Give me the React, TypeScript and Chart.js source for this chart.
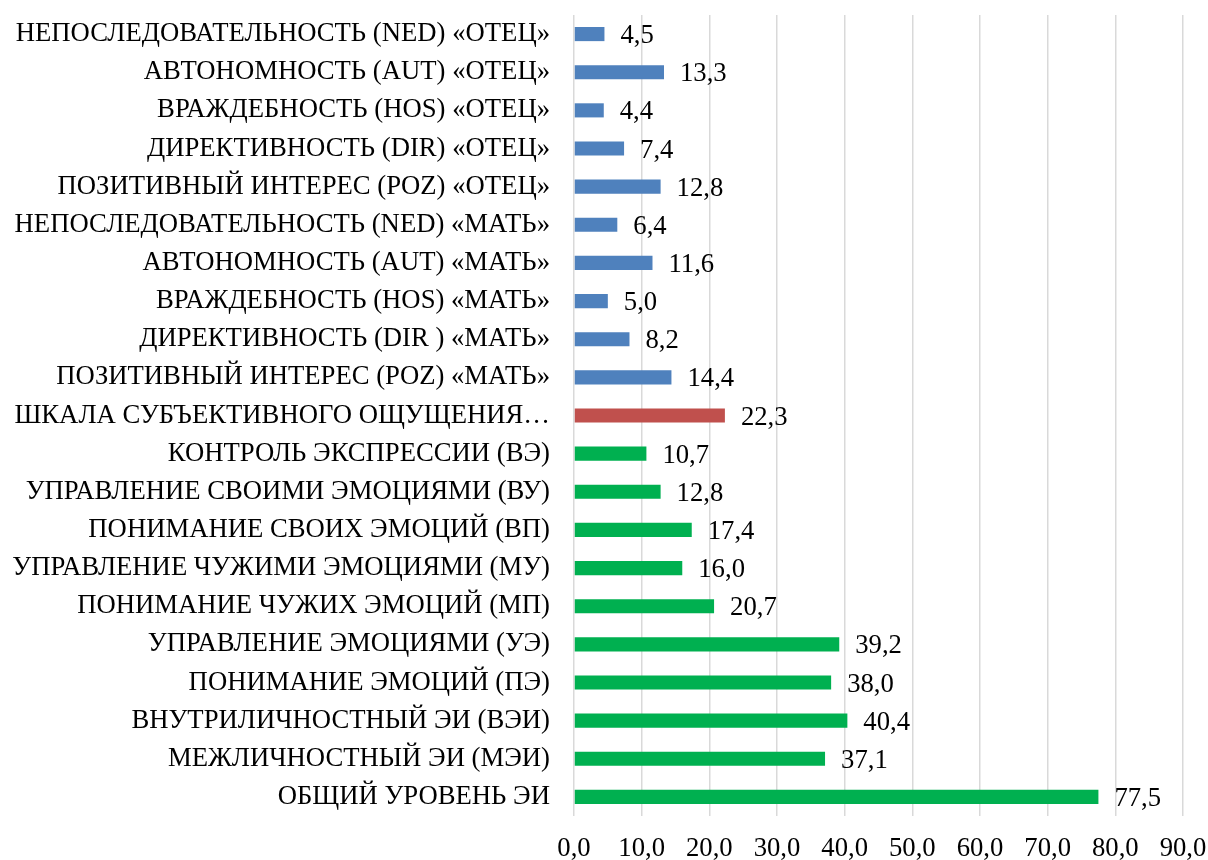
import React, { useEffect, useRef } from "react";
import { Chart, registerables } from "chart.js";

Chart.register(...registerables);

const categories: string[] = [
  "НЕПОСЛЕДОВАТЕЛЬНОСТЬ (NED) «ОТЕЦ»",
  "АВТОНОМНОСТЬ (AUT) «ОТЕЦ»",
  "ВРАЖДЕБНОСТЬ (HOS) «ОТЕЦ»",
  "ДИРЕКТИВНОСТЬ (DIR) «ОТЕЦ»",
  "ПОЗИТИВНЫЙ ИНТЕРЕС (POZ) «ОТЕЦ»",
  "НЕПОСЛЕДОВАТЕЛЬНОСТЬ (NED) «МАТЬ»",
  "АВТОНОМНОСТЬ (AUT) «МАТЬ»",
  "ВРАЖДЕБНОСТЬ (HOS) «МАТЬ»",
  "ДИРЕКТИВНОСТЬ (DIR ) «МАТЬ»",
  "ПОЗИТИВНЫЙ ИНТЕРЕС (POZ) «МАТЬ»",
  "ШКАЛА СУБЪЕКТИВНОГО ОЩУЩЕНИЯ…",
  "КОНТРОЛЬ ЭКСПРЕССИИ (ВЭ)",
  "УПРАВЛЕНИЕ СВОИМИ ЭМОЦИЯМИ (ВУ)",
  "ПОНИМАНИЕ СВОИХ ЭМОЦИЙ (ВП)",
  "УПРАВЛЕНИЕ ЧУЖИМИ ЭМОЦИЯМИ (МУ)",
  "ПОНИМАНИЕ ЧУЖИХ ЭМОЦИЙ (МП)",
  "УПРАВЛЕНИЕ ЭМОЦИЯМИ (УЭ)",
  "ПОНИМАНИЕ ЭМОЦИЙ (ПЭ)",
  "ВНУТРИЛИЧНОСТНЫЙ ЭИ (ВЭИ)",
  "МЕЖЛИЧНОСТНЫЙ ЭИ (МЭИ)",
  "ОБЩИЙ УРОВЕНЬ ЭИ",
];

const values: number[] = [
  4.5, 13.3, 4.4, 7.4, 12.8, 6.4, 11.6, 5.0, 8.2, 14.4, 22.3, 10.7, 12.8, 17.4,
  16.0, 20.7, 39.2, 38.0, 40.4, 37.1, 77.5,
];

const groups: string[] = [
  "parent", "parent", "parent", "parent", "parent", "parent", "parent", "parent", "parent", "parent",
  "scale",
  "ei", "ei", "ei", "ei", "ei", "ei", "ei", "ei", "ei", "ei",
];

const groupColors: Record<string, string> = {
  parent: "#4F81BD",
  scale: "#C0504D",
  ei: "#00B050",
};

const xMin = 0;
const xMax = 90;
const xStep = 10;

const FONT = "'Liberation Serif', 'Times New Roman', serif";
const FSIZE = 26.7;

const fmt = (v: number) => v.toFixed(1).replace(".", ",");

const valueLabels = {
  id: "valueLabels",
  afterDatasetsDraw(chart: any) {
    const ctx = chart.ctx;
    const meta = chart.getDatasetMeta(0);
    ctx.save();
    ctx.font = `${FSIZE}px ${FONT}`;
    ctx.fillStyle = "#000";
    ctx.textAlign = "left";
    ctx.textBaseline = "middle";
    meta.data.forEach((bar: any, i: number) => {
      const v = chart.data.datasets[0].data[i];
      ctx.fillText(fmt(v), bar.x + 16, bar.y + 2);
    });
    ctx.restore();
  },
};

export default function App() {
  const ref = useRef<HTMLCanvasElement>(null);
  useEffect(() => {
    if (!ref.current) return;
    const chart = new Chart(ref.current, {
      type: "bar",
      data: {
        labels: categories,
        datasets: [
          {
            data: values,
            backgroundColor: groups.map((g) => groupColors[g]),
            barPercentage: 0.37,
            categoryPercentage: 1,
          },
        ],
      },
      options: {
        indexAxis: "y",
        responsive: false,
        animation: false,
        devicePixelRatio: 1,
        layout: { padding: { top: 15, right: 25, bottom: 0, left: 0 } },
        plugins: {
          legend: { display: false },
          tooltip: { enabled: false },
          title: { display: false },
        },
        scales: {
          x: {
            min: xMin,
            max: xMax,
            ticks: {
              stepSize: xStep,
              color: "#000",
              padding: 17,
              font: { family: FONT, size: FSIZE },
              callback: (v: any) => fmt(Number(v)),
            },
            grid: { color: "#D9D9D9", lineWidth: 1.5, drawTicks: false },
            border: { display: false },
            afterFit: (s: any) => {
              s.height = 44;
              s.paddingLeft = 0;
              s.paddingRight = 0;
            },
          },
          y: {
            ticks: {
              color: "#000",
              padding: 24,
              autoSkip: false,
              font: { family: FONT, size: FSIZE },
            },
            grid: { display: false, drawTicks: false },
            border: { display: false },
            afterFit: (s: any) => {
              s.width = 574;
              s.paddingTop = 0;
              s.paddingBottom = 0;
            },
          },
        },
      },
      plugins: [valueLabels],
    });
    return () => chart.destroy();
  }, []);
  return (
    <div style={{ position: "absolute", left: 0, top: 0, width: 1208, height: 860, background: "#fff" }}>
      <canvas ref={ref} width={1208} height={860} style={{ width: 1208, height: 860 }} />
    </div>
  );
}
